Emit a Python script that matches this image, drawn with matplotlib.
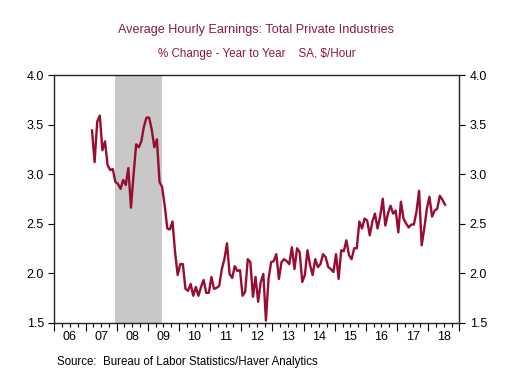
import numpy as np
import pandas as pd
import matplotlib
matplotlib.use('Agg')
import matplotlib.pyplot as plt
from matplotlib.ticker import FixedLocator, FuncFormatter

plt.rcParams['font.family'] = ['Liberation Sans', 'DejaVu Sans']

# monthly y/y % change, Mar 2007 .. Jul 2018
start_month = '2007-03'
values = [
    3.44, 3.12, 3.53, 3.59, 3.24, 3.33, 3.09, 3.04, 3.05, 2.92,
    2.90, 2.85, 2.94, 2.89, 3.06, 2.66, 2.99, 3.30, 3.27, 3.33, 3.48, 3.57,
    3.57, 3.45, 3.27, 3.35, 2.92, 2.87, 2.68, 2.45, 2.44, 2.52, 2.21, 1.98,
    2.09, 2.09, 1.84, 1.82, 1.89, 1.77, 1.86, 1.77, 1.86, 1.93, 1.80, 1.80,
    1.96, 1.84, 1.85, 1.87, 2.04, 2.14, 2.30, 1.99, 1.95, 2.07, 2.02, 2.03,
    1.77, 1.81, 2.14, 2.11, 1.76, 1.96, 1.71, 1.91, 1.99, 1.52, 1.94, 2.11,
    2.12, 2.19, 1.94, 2.11, 2.14, 2.12, 2.09, 2.26, 2.04, 2.25, 2.21, 1.91,
    1.98, 2.23, 2.08, 1.98, 2.14, 2.06, 2.09, 2.19, 2.16, 2.06, 2.04, 2.01,
    2.19, 1.94, 2.23, 2.22, 2.33, 2.18, 2.14, 2.25, 2.25, 2.52, 2.45, 2.55,
    2.53, 2.38, 2.52, 2.60, 2.45, 2.57, 2.75, 2.48, 2.60, 2.68, 2.60, 2.63,
    2.41, 2.72, 2.55, 2.50, 2.46, 2.49, 2.49, 2.62, 2.83, 2.28, 2.45, 2.65,
    2.77, 2.57, 2.63, 2.65, 2.78, 2.74, 2.69,
]
recession = (2007 + 11.5 / 12, 2009 + 5.5 / 12)
years = list(range(2006, 2019))
year_labels = ['%02d' % (y % 100) for y in years]

dates = pd.date_range(start_month, periods=len(values), freq='MS')
x = dates.year + (dates.month - 0.5) / 12.0

red = '#980c30'
fig = plt.figure(figsize=(5.14, 3.71), dpi=100)
ax = fig.add_axes([0.1058, 0.1307, 0.7878, 0.6671])

ax.axvspan(recession[0], recession[1], color='#c8c8c8', lw=0, zorder=1)
ax.plot(x, values, color=red, lw=1.7, zorder=3)

ax.set_xlim(2006, 2019)
ax.set_ylim(1.5, 4.0)
ax.set_yticks(np.arange(1.5, 4.01, 0.5))
ax.yaxis.set_major_formatter(FuncFormatter(lambda v, p: '%.1f' % v))

# year boundaries as long ticks, quarters as short ticks, labels mid-year
ax.xaxis.set_major_locator(FixedLocator(years + [2019]))
ax.xaxis.set_major_formatter(FuncFormatter(lambda v, p: ''))
quarters = [y + q / 4 for y in years for q in (1, 2, 3)]
ax.xaxis.set_minor_locator(FixedLocator(quarters))
mid = {y + 0.5: lab for y, lab in zip(years, year_labels)}
ax.xaxis.set_minor_formatter(FuncFormatter(
    lambda v, p: mid.get(round(v, 2), '')))

ax.tick_params(axis='x', which='major', length=6, width=0.8, direction='out')
ax.tick_params(axis='x', which='minor', length=3, width=0.8, direction='out',
               labelsize=9, pad=3)
ax.tick_params(axis='y', which='major', length=4, width=0.8, direction='out',
               labelsize=9, left=True, right=True,
               labelleft=True, labelright=True)
for s in ax.spines.values():
    s.set_linewidth(1.0)
    s.set_color('#222222')

fig.text(0.499, 0.918, 'Average Hourly Earnings: Total Private Industries',
         ha='center', va='center', fontsize=9.1, color='#8c1a3c')
fig.text(0.499, 0.855, '% Change - Year to Year    SA, $/Hour',
         ha='center', va='center', fontsize=8.4, color='#8c1a3c')
fig.text(0.11, 0.025, 'Source:  Bureau of Labor Statistics/Haver Analytics',
         ha='left', va='center', fontsize=8.3, color='black')

fig.savefig('out.png', dpi=100)
